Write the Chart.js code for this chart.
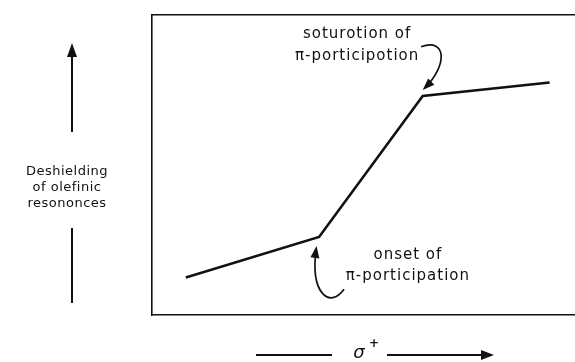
<!DOCTYPE html>
<html>
<head>
<meta charset="utf-8">
<script src="https://cdn.jsdelivr.net/npm/chart.js@4/dist/chart.umd.min.js"></script>
<style>
    html, body { margin: 0; padding: 0; background: #fff; }
    #wrap { width: 575px; height: 362px; }
</style>
</head>
<body>
<div id="wrap"><canvas id="chart" width="575" height="362"></canvas></div>
<script>
// sigma+ (arbitrary units) vs deshielding (arbitrary units)
const sigmaValues = [0.8, 3.95, 6.4, 9.4];
const deshielding = [1.25, 2.6, 7.3, 7.75];
const axisLabelLines = ['Deshielding', 'of olefinic', 'resononces'];
const xAxisLabel = 'σ';

const ink = '#111';
const font = '"DejaVu Sans", sans-serif';

// annotation text and curved arrows, placed in data units
const notes = [
    { lines: ['soturotion of', 'π-porticipotion'], x: 4.85, y: [9.37, 8.64],
      curve: [[6.36, 8.94], [6.98, 9.25], [6.98, 8.3], [6.45, 7.57]] },
    { lines: ['onset of', 'π-porticipation'], x: 6.05, y: [1.99, 1.3],
      curve: [[4.54, 0.86], [4.2, 0.2], [3.74, 0.7], [3.88, 2.2]] }
];

function arrowHead(ctx, x, y, angle, len, half) {
    ctx.save();
    ctx.translate(x, y);
    ctx.rotate(angle);
    ctx.beginPath();
    ctx.moveTo(0, 0);
    ctx.lineTo(-len, -half);
    ctx.lineTo(-len, half);
    ctx.closePath();
    ctx.fill();
    ctx.restore();
}

const decorations = {
    id: 'decorations',
    afterDatasetsDraw(chart) {
        const ctx = chart.ctx;
        const xs = chart.scales.x, ys = chart.scales.y;
        const px = v => xs.getPixelForValue(v);
        const py = v => ys.getPixelForValue(v);
        ctx.save();
        ctx.fillStyle = ink;
        ctx.strokeStyle = ink;
        ctx.textAlign = 'center';
        ctx.textBaseline = 'middle';

        // notes inside the frame
        ctx.font = '15px ' + font;
        ctx.letterSpacing = '1px';
        notes.forEach(n => {
            n.lines.forEach((t, i) => ctx.fillText(t, px(n.x), py(n.y[i])));
            const p = n.curve.map(c => [px(c[0]), py(c[1])]);
            ctx.lineWidth = 1.7;
            ctx.beginPath();
            ctx.moveTo(p[0][0], p[0][1]);
            ctx.bezierCurveTo(p[1][0], p[1][1], p[2][0], p[2][1], p[3][0], p[3][1]);
            ctx.stroke();
            const ang = Math.atan2(p[3][1] - p[2][1], p[3][0] - p[2][0]);
            arrowHead(ctx, p[3][0] + Math.cos(ang) * 3, p[3][1] + Math.sin(ang) * 3, ang, 12, 4.5);
        });

        // vertical axis label with arrow
        const area = chart.chartArea;
        const ax = 72;
        ctx.font = '13px ' + font;
        ctx.letterSpacing = '0.5px';
        axisLabelLines.forEach((t, i) => ctx.fillText(t, 67, 172 + i * 16));
        ctx.letterSpacing = '0px';
        ctx.lineWidth = 2;
        ctx.beginPath();
        ctx.moveTo(ax, 132); ctx.lineTo(ax, 55);
        ctx.moveTo(ax, 228); ctx.lineTo(ax, 303);
        ctx.stroke();
        arrowHead(ctx, ax, 43, -Math.PI / 2, 14, 5);

        // horizontal axis label with arrow
        const ly = area.bottom + 40;
        ctx.beginPath();
        ctx.moveTo(256, ly); ctx.lineTo(332, ly);
        ctx.moveTo(387, ly); ctx.lineTo(482, ly);
        ctx.stroke();
        arrowHead(ctx, 494, ly, 0, 13, 5);
        ctx.font = 'italic 18px ' + font;
        ctx.fillText(xAxisLabel, 359, ly - 2);
        ctx.font = 'bold 12px ' + font;
        ctx.fillText('+', 374, ly - 11);
        ctx.restore();
    }
};

const hiddenTicks = { display: false };
new Chart(document.getElementById('chart'), {
    type: 'scatter',
    data: {
        datasets: [{
            data: sigmaValues.map((x, i) => ({ x: x, y: deshielding[i] })),
            showLine: true,
            borderColor: ink,
            borderWidth: 2.6,
            pointRadius: 0,
            tension: 0
        }]
    },
    options: {
        responsive: false,
        animation: false,
        layout: { padding: { left: 144, top: 7, bottom: 39, right: 0 } },
        plugins: { legend: { display: false }, tooltip: { enabled: false } },
        scales: {
            x: { type: 'linear', min: 0, max: 10, position: 'bottom', ticks: hiddenTicks,
                 grid: { display: false }, border: { display: true, color: ink, width: 1.6 } },
            xTop: { type: 'linear', min: 0, max: 10, position: 'top', ticks: hiddenTicks,
                    grid: { display: false }, border: { display: true, color: ink, width: 1.6 } },
            y: { type: 'linear', min: 0, max: 10, position: 'left', ticks: hiddenTicks,
                 grid: { display: false }, border: { display: true, color: ink, width: 1.6 } }
        }
    },
    plugins: [decorations]
});
</script>
</body>
</html>
